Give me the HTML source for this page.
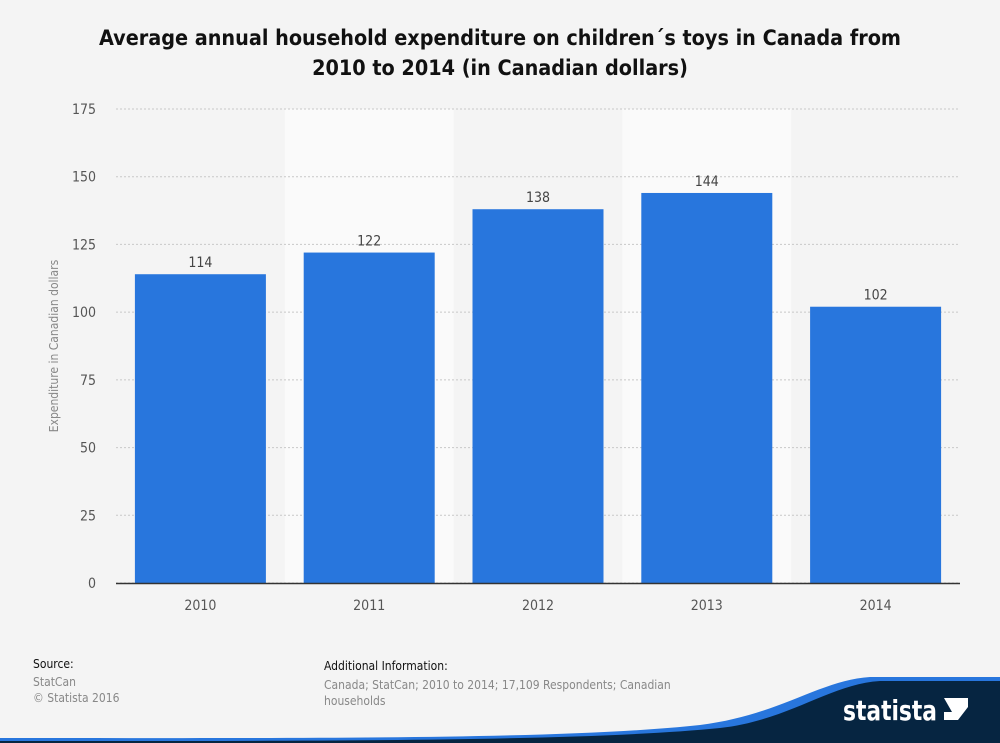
<!DOCTYPE html>
<html><head><meta charset="utf-8"><style>
body{margin:0;width:1000px;height:743px;background:#f4f4f4;font-family:"DejaVu Sans Condensed","DejaVu Sans","Liberation Sans",sans-serif;overflow:hidden;position:relative}
.t{position:absolute;left:0;width:1000px;top:24px;text-align:center;font-weight:bold;font-size:21.4px;line-height:30px;color:#111}
</style></head><body>
<div class="t">Average annual household expenditure on children´s toys in Canada from<br>2010 to 2014 (in Canadian dollars)</div>
<svg id="c" width="1000" height="743" style="position:absolute;left:0;top:0"></svg>
<div style="position:absolute;left:33px;top:657px;font-size:12px;color:#111">Source:</div>
<div style="position:absolute;left:33px;top:674px;font-size:12px;color:#888;line-height:16px">StatCan<br>© Statista 2016</div>
<div style="position:absolute;left:324px;top:659px;font-size:12px;color:#111">Additional Information:</div>
<div style="position:absolute;left:324px;top:677px;font-size:12px;color:#888;line-height:16px;width:380px">Canada; StatCan; 2010 to 2014; 17,109 Respondents; Canadian<br>households</div>
<svg width="1000" height="743" style="position:absolute;left:0;top:0">
<path d="M0,743 L0,738 C300,738 560,740 700,725 C780,715 820,680 870,677 L1000,677 L1000,743 Z" fill="#2876dd"/>
<path d="M0,743 L0,741 C300,741 580,742 720,728 C790,720 830,684 880,681 L1000,681 L1000,743 Z" fill="#062541"/>
<text x="843" y="720" fill="#fff" font-size="28" font-weight="bold" textLength="94" lengthAdjust="spacingAndGlyphs" font-family="DejaVu Sans Condensed, Liberation Sans, sans-serif">statista</text>
<path d="M944,698 L968,698 L968,707 L958,720 L944,720 L944,712 L952,712 Z" fill="#fff"/>
</svg>
<script>
const categories=["2010","2011","2012","2013","2014"];
const values=[114,122,138,144,102];
const ticks=[0,25,50,75,100,125,150,175];
const svg=document.getElementById('c');const NS="http://www.w3.org/2000/svg";
const L=116,R=960,T=109,B=583,max=175;
const y=v=>B-(v/max)*(B-T);
const bw=(R-L)/categories.length;
const x=i=>L+i*bw;
function mk(t,a){const e=document.createElementNS(NS,t);for(const k in a)e.setAttribute(k,a[k]);svg.appendChild(e);return e;}
categories.forEach((c,i)=>{if(i%2==1){const r=mk('rect',{x:x(i),y:T,width:bw,height:B-T,fill:'#fafafa'});

}});
ticks.forEach(t=>{const l=mk('line',{x1:L,x2:R,y1:y(t),y2:y(t),stroke:'#c8c8c8','stroke-dasharray':'2,2'});


const tx=mk('text',{x:96,y:y(t)+5,'text-anchor':'end','font-size':14,fill:'#555'});tx.textContent=t;

});
values.forEach((v,i)=>{const cx=x(i)+bw/2;const r=mk('rect',{x:cx-65.5,y:y(v),width:131,height:B-y(v),fill:'#2876dd'});


const lb=mk('text',{x:cx,y:y(v)-7,'text-anchor':'middle','font-size':14,fill:'#444'});lb.textContent=v;


const xl=mk('text',{x:cx,y:610,'text-anchor':'middle','font-size':14,fill:'#555'});xl.textContent=categories[i];

});
const ax=mk('line',{x1:L,x2:R,y1:B+0.5,y2:B+0.5,stroke:'#333','stroke-width':1.5});


const yt=mk('text',{x:0,y:0,transform:'translate(58,346) rotate(-90)','text-anchor':'middle','font-size':12,fill:'#888'});yt.textContent='Expenditure in Canadian dollars';


</script>
</body></html>
